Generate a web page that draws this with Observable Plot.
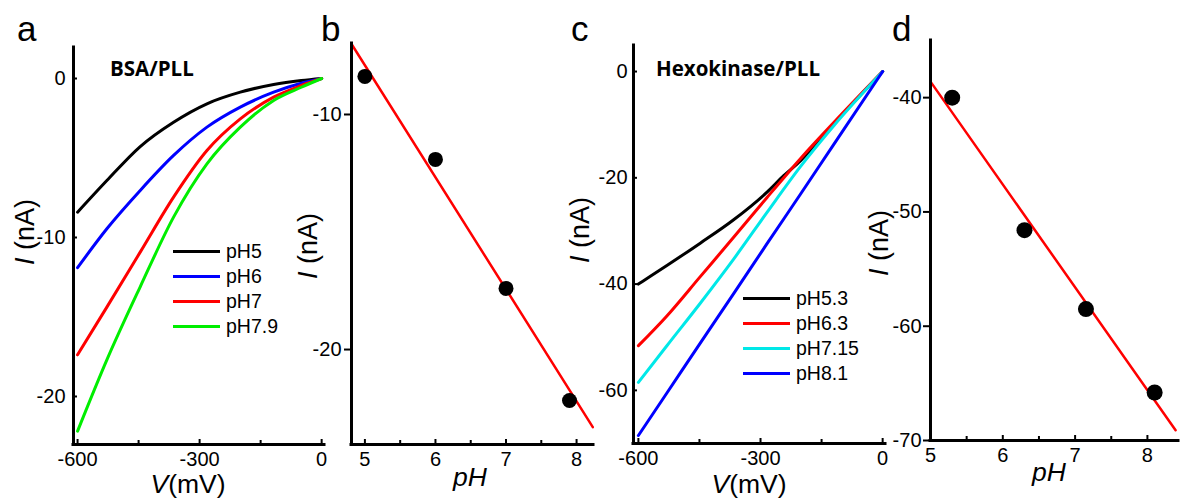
<!DOCTYPE html>
<html><head><meta charset="utf-8">
<script src="https://cdn.jsdelivr.net/npm/d3@7"></script>
<script src="https://cdn.jsdelivr.net/npm/@observablehq/plot@0.6"></script>
<style>
html,body{margin:0;padding:0;background:#fff;}
#root{position:relative;width:1180px;height:499px;overflow:hidden;font-family:"Liberation Sans",Arial,sans-serif;color:#000;}
.panel{position:absolute;top:0;}
.panel svg{overflow:visible;display:block;}
.panel svg text{font-size:20px;font-family:"Liberation Sans",Arial,sans-serif;}
.abs{position:absolute;white-space:nowrap;}
.letter{font-size:35px;line-height:1;}
.title{font-family:"Open Sans",sans-serif;font-weight:bold;font-size:20.5px;line-height:1;}
.axlab{font-size:26.5px;line-height:0.8;transform:translateX(-50%);}
.ylab{font-size:27px;line-height:1;transform:translate(-50%,-50%) rotate(-90deg);}
.legend{position:absolute;font-size:19.5px;}
.legend .row{height:25px;display:flex;align-items:center;}
.legend .sw{width:47px;height:0;border-top:3px solid;margin-right:6px;}
</style>
</head><body>
<div id="root"></div>
<script>
// ---------- data ----------
// Panel a: BSA/PLL I-V curves
const voltA = [-600, -528, -446, -364, -282, -200, -118, -50, 0];
const seriesA = ["pH5", "pH6", "pH7", "pH7.9"];
const colorsA = ["#000000", "#0000ff", "#ff0000", "#00ee00"];
const iA_pH5  = [-8.41, -6.42, -4.28, -2.75, -1.59, -0.86, -0.38, -0.13, 0];
const iA_pH6  = [-11.9, -9.45, -7.04, -4.84, -3.06, -1.80, -0.86, -0.30, 0];
const iA_pH7  = [-17.38, -14.38, -10.92, -7.46, -4.53, -2.54, -1.17, -0.44, 0];
const iA_pH79 = [-22.18, -17.7, -13.1, -8.72, -5.37, -3.06, -1.38, -0.55, 0];

// Panel b: current at -600 mV vs pH, with linear fit
const pHB = [5, 6, 7, 7.9];
const iB = [-8.38, -11.91, -17.4, -22.17];
const fitPHB = [4.81, 8.23];
const fitIB = [-7.0, -23.3];

// Panel c: Hexokinase/PLL I-V curves
const seriesC = ["pH5.3", "pH6.3", "pH7.15", "pH8.1"];
const colorsC = ["#000000", "#ff0000", "#00e8e8", "#0000ff"];
const voltC53 = [-600, -590, -530, -448, -366, -284, -243, -202, -120, 0];
const iC_pH53 = [-40.0, -39.5, -36.5, -32.3, -27.9, -22.7, -19.6, -16.8, -9.85, 0];
const voltC = [-600, -530, -448, -366, -284, -202, -120, 0];
const iC_pH63  = [-51.6, -46.0, -38.6, -31.2, -23.7, -16.4, -9.6, 0];
const iC_pH715 = [-58.5, -51.6, -43.6, -35.3, -26.5, -17.9, -10.2, 0];
const iC_pH81  = [-68.5, -60.5, -51.1, -41.8, -32.4, -23.1, -13.7, 0];

// Panel d
const pHD = [5.3, 6.3, 7.15, 8.1];
const iD = [-40.0, -51.6, -58.5, -65.8];
const fitPHD = [5.0, 8.39];
const fitID = [-38.6, -69.1];

// tick values
const ticksVx = [-600, -300, 0], minorVx = [-450, -150];
const ticksAy = [0, -10, -20];
const ticksB_x = [5, 6, 7, 8], minorPH = [5.5, 6.5, 7.5];
const ticksBy = [-10, -20];
const ticksCy = [0, -20, -40, -60];
const ticksDy = [-40, -50, -60, -70];

// ---------- build tables ----------
const tableA = [iA_pH5, iA_pH6, iA_pH7, iA_pH79].flatMap((arr, k) =>
  arr.map((v, i) => ({V: voltA[i], I: v, s: seriesA[k]})));
const tableC = [
  ...iC_pH53.map((v, i) => ({V: voltC53[i], I: v, s: seriesC[0]})),
  ...[iC_pH63, iC_pH715, iC_pH81].flatMap((arr, k) =>
    arr.map((v, i) => ({V: voltC[i], I: v, s: seriesC[k + 1]})))
];
const ptsB = pHB.map((p, i) => ({pH: p, I: iB[i]}));
const fitB = fitPHB.map((p, i) => ({pH: p, I: fitIB[i]}));
const ptsD = pHD.map((p, i) => ({pH: p, I: iD[i]}));
const fitD = fitPHD.map((p, i) => ({pH: p, I: fitID[i]}));

const root = document.getElementById("root");
const H = 499;
const fmt = d => String(d);

function panel({left, width, frame, xDomain, yDomain, xTicks, xMinor, yTicks, yIn, yPad, marks}) {
  const [x0, x1, y0, y1] = frame;
  const axisMarks = [
    Plot.axisY({ticks: yTicks, tickSize: yIn ? -4 : 7, tickPadding: yPad, tickFormat: fmt, label: null, strokeWidth: 2, fontSize: 20}),
    Plot.axisX({ticks: xTicks, tickSize: -5, tickPadding: 12, tickFormat: fmt, label: null, strokeWidth: 2, fontSize: 20}),
    Plot.axisX({ticks: xMinor, tickSize: -4, tickPadding: 0, tickFormat: () => "", label: null, strokeWidth: 2}),
    Plot.ruleX([xDomain[0]], {strokeWidth: 3, strokeLinecap: "square"}),
    Plot.ruleY([yDomain[0]], {strokeWidth: 3, strokeLinecap: "square"})
  ];
  const svg = Plot.plot({
    width, height: H,
    marginLeft: x0 - left, marginRight: left + width - x1,
    marginTop: y0, marginBottom: H - y1,
    x: {domain: xDomain},
    y: {domain: yDomain},
    style: {fontFamily: '"Liberation Sans", Arial, sans-serif', fontSize: "20px", color: "black", background: "transparent", overflow: "visible"},
    marks: [...marks, ...axisMarks]
  });
  const div = document.createElement("div");
  div.className = "panel";
  div.style.left = left + "px";
  div.appendChild(svg);
  root.appendChild(div);
}

// Panel a
panel({
  left: 0, width: 340, frame: [73, 324, 47, 444],
  xDomain: [-610, 7], yDomain: [-23.02, 1.95],
  xTicks: ticksVx, xMinor: minorVx, yTicks: ticksAy, yIn: true, yPad: 12,
  marks: [
    Plot.line(tableA, {x: "V", y: "I", z: "s", stroke: d => colorsA[seriesA.indexOf(d.s)], strokeWidth: 3, curve: "monotone-x"})
  ]
});
// Panel b
panel({
  left: 300, width: 300, frame: [351, 593, 43, 444],
  xDomain: [4.81, 8.24], yDomain: [-24.04, -6.98],
  xTicks: ticksB_x, xMinor: minorPH, yTicks: ticksBy, yIn: false, yPad: 3,
  marks: [
    Plot.line(fitB, {x: "pH", y: "I", stroke: "#ff0000", strokeWidth: 2.5}),
    Plot.dot(ptsB, {x: "pH", y: "I", r: 7.5, fill: "black"})
  ]
});
// Panel c
panel({
  left: 560, width: 340, frame: [633, 885, 45, 443],
  xDomain: [-612, 7], yDomain: [-70, 4.9],
  xTicks: ticksVx, xMinor: minorVx, yTicks: ticksCy, yIn: true, yPad: 10,
  marks: [
    Plot.line(tableC, {x: "V", y: "I", z: "s", stroke: d => colorsC[seriesC.indexOf(d.s)], strokeWidth: 3, curve: "monotone-x"})
  ]
});
// Panel d
panel({
  left: 880, width: 300, frame: [930, 1178, 40, 440],
  xDomain: [5, 8.43], yDomain: [-70, -35],
  xTicks: ticksB_x, xMinor: minorPH, yTicks: ticksDy, yIn: false, yPad: 2,
  marks: [
    Plot.line(fitD, {x: "pH", y: "I", stroke: "#ff0000", strokeWidth: 2.5}),
    Plot.dot(ptsD, {x: "pH", y: "I", r: 8, fill: "black"})
  ]
});

// ---------- text overlays ----------
function addText(cls, html, left, top) {
  const d = document.createElement("div");
  d.className = "abs " + cls;
  d.innerHTML = html;
  d.style.left = left + "px";
  d.style.top = top + "px";
  root.appendChild(d);
}
addText("letter", "a", 17, 11);
addText("letter", "b", 321, 11);
addText("letter", "c", 571, 11);
addText("letter", "d", 892, 11);
addText("title", "BSA/PLL", 110, 58);
addText("title", "Hexokinase/PLL", 656, 58);
addText("axlab", "<i>V</i>(mV)", 188, 474);
addText("axlab", "<i>V</i>(mV)", 749, 474);
addText("axlab", "<i>pH</i>", 470, 467);
addText("axlab", "<i>pH</i>", 1049, 462);
addText("ylab", "<i>I</i> (nA)", 25, 232);
addText("ylab", "<i>I</i> (nA)", 308, 246);
addText("ylab", "<i>I</i> (nA)", 580, 230);
addText("ylab", "<i>I</i> (nA)", 879, 243);

function legend(names, colors, left, top) {
  const L = document.createElement("div");
  L.className = "legend";
  L.style.left = left + "px";
  L.style.top = top + "px";
  names.forEach((n, i) => {
    const r = document.createElement("div");
    r.className = "row";
    const sw = document.createElement("span");
    sw.className = "sw";
    sw.style.borderColor = colors[i];
    const t = document.createElement("span");
    t.textContent = n;
    r.appendChild(sw); r.appendChild(t);
    L.appendChild(r);
  });
  root.appendChild(L);
}
legend(seriesA, colorsA, 173, 238.5);
legend(seriesC, colorsC, 743, 285.5);
</script>
</body></html>
